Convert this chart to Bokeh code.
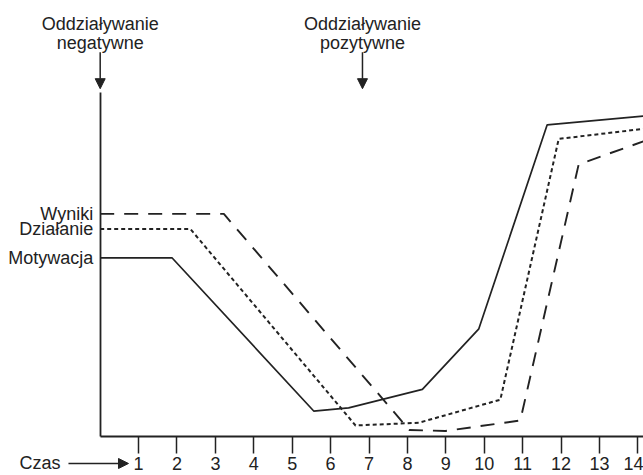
from bokeh.plotting import figure
from bokeh.models import Range1d, FixedTicker, Label, Arrow, NormalHead
from bokeh.embed import file_html
from bokeh.resources import INLINE

# ---- data (time units on x, arbitrary level 0..100 on y) ----
time_ticks = list(range(1, 15))

series_names = ["Wyniki", "Działanie", "Motywacja"]

time_motywacja = [0, 1.875, 5.56, 6.47, 8.39, 9.86, 11.64, 14.2]
val_motywacja = [51.9, 51.9, 7.4, 8.3, 13.7, 31.3, 90.6, 93.2]

time_dzialanie = [0, 2.35, 6.65, 8.30, 10.42, 11.94, 14.2]
val_dzialanie = [60.3, 60.3, 3.2, 4.0, 10.7, 86.5, 89.5]

time_wyniki = [0, 3.22, 8.05, 8.99, 10.94, 12.46, 14.2]
val_wyniki = [64.7, 64.7, 1.9, 1.6, 4.65, 79.1, 86.0]

annot_times = [0, 6.83]
annot_line1 = ["Oddziaływanie", "Oddziaływanie"]
annot_line2 = ["negatywne", "pozytywne"]

FONT = "Liberation Sans"
INK = "#222222"
FS = "18px"

p = figure(width=643, height=475, x_range=Range1d(-2.596, 14.148), y_range=Range1d(-11.34, 126.74),
           output_backend="svg", toolbar_location=None,
           min_border_left=0, min_border_right=0, min_border_top=0, min_border_bottom=0)
p.xgrid.visible = False
p.ygrid.visible = False
p.outline_line_color = None
p.background_fill_color = "white"

# x axis, drawn at level 0 and starting at time 0
xa = p.xaxis[0]
xa.fixed_location = 0
xa.bounds = (0, 14.2)
xa.ticker = FixedTicker(ticks=time_ticks)
xa.minor_tick_line_color = None
xa.major_tick_in = 0
xa.major_tick_out = 17
xa.major_tick_line_width = 1.5
xa.major_tick_line_color = INK
xa.axis_line_color = INK
xa.axis_line_width = 1.8
xa.major_label_standoff = 4
xa.major_label_text_font = FONT
xa.major_label_text_font_size = FS
xa.major_label_text_color = INK

# y axis at time 0, with series names at their starting levels
start_levels = [val_wyniki[0], val_dzialanie[0], val_motywacja[0]]
ya = p.yaxis[0]
ya.fixed_location = 0
ya.bounds = (0, 100)
ya.ticker = FixedTicker(ticks=start_levels)
ya.major_label_overrides = {lvl: name for lvl, name in zip(start_levels, series_names)}
ya.minor_tick_line_color = None
ya.major_tick_line_color = None
ya.major_tick_in = 0
ya.major_tick_out = 0
ya.axis_line_color = INK
ya.axis_line_width = 1.8
ya.major_label_standoff = 7
ya.major_label_text_font = FONT
ya.major_label_text_font_size = FS
ya.major_label_text_color = INK

# series lines
p.line(time_motywacja, val_motywacja, line_color=INK, line_width=1.7)
p.line(time_dzialanie, val_dzialanie, line_color=INK, line_width=2, line_dash="4 3")
p.line(time_wyniki, val_wyniki, line_color=INK, line_width=1.9, line_dash="14 10")

# top annotations
for t, l1, l2 in zip(annot_times, annot_line1, annot_line2):
    p.add_layout(Label(x=t, y=119.8, text=l1, text_align="center", text_baseline="alphabetic",
                       text_font=FONT, text_font_size=FS, text_color=INK))
    p.add_layout(Label(x=t, y=114.5, text=l2, text_align="center", text_baseline="alphabetic",
                       text_font=FONT, text_font_size=FS, text_color=INK))
    p.add_layout(Arrow(end=NormalHead(size=10, fill_color=INK, line_color=INK),
                       x_start=t, y_start=111.7, x_end=t, y_end=101.1,
                       line_color=INK, line_width=1.5))

# "Czas" axis title with arrow
p.add_layout(Label(x=-1.034, y=-7.85, text="Czas", text_align="right", text_baseline="middle",
                   text_font=FONT, text_font_size=FS, text_color=INK))
p.add_layout(Arrow(end=NormalHead(size=10, fill_color=INK, line_color=INK),
                   x_start=-0.826, y_start=-7.85, x_end=0.737, y_end=-7.85,
                   line_color=INK, line_width=1.5))

open("out.html", "w").write(file_html(p, INLINE))
